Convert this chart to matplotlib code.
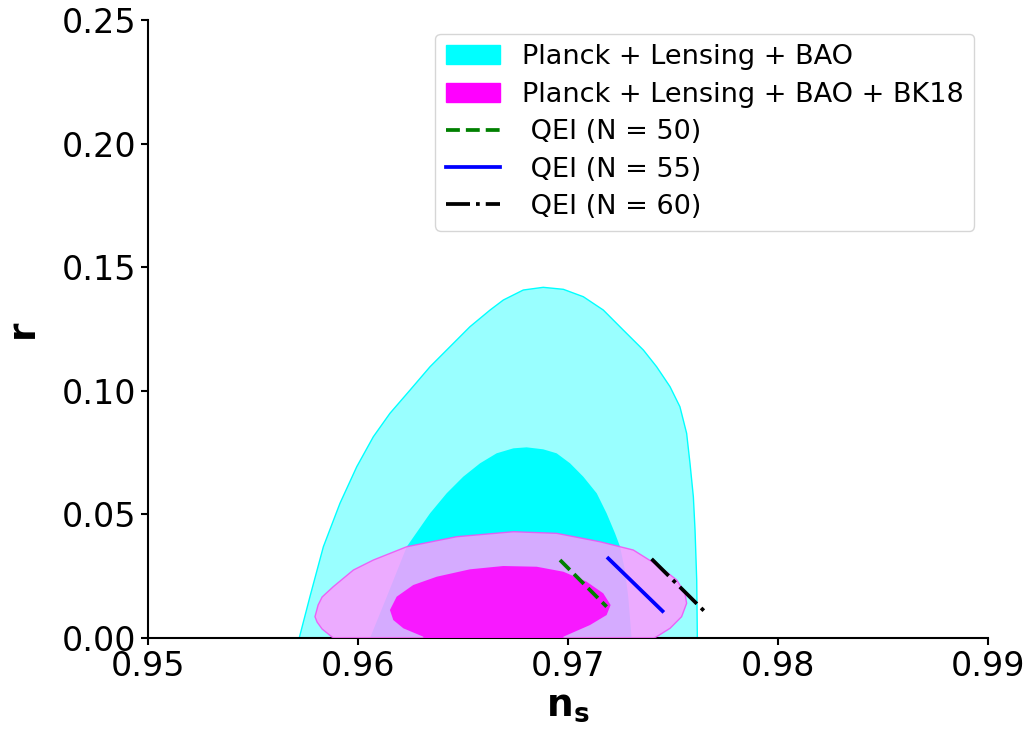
import numpy as np
import matplotlib
matplotlib.use("Agg")
import matplotlib.pyplot as plt
from matplotlib.patches import Patch
from matplotlib.ticker import FormatStrFormatter

# contour outlines (n_s, r)
cyan_outer_ns = [0.95720, 0.95771, 0.95835, 0.95914, 0.95994, 0.96073, 0.96152, 0.96248,
                 0.96343, 0.96438, 0.96533, 0.96629, 0.96692, 0.96787, 0.96882, 0.96978,
                 0.97073, 0.97168, 0.97263, 0.97359, 0.97422, 0.97486, 0.97533, 0.97565,
                 0.97581, 0.97597, 0.97605, 0.97613, 0.97616]
cyan_outer_r = [0.0, 0.01671, 0.03693, 0.05449, 0.06930, 0.08143, 0.09089, 0.10032,
                0.10975, 0.11784, 0.12593, 0.13269, 0.13673, 0.14078, 0.14187, 0.14106,
                0.13807, 0.13269, 0.12460, 0.11650, 0.10975, 0.10166, 0.09357, 0.08281,
                0.07067, 0.05716, 0.04369, 0.02346, 0.0]

cyan_inner_ns = [0.96057, 0.96137, 0.96232, 0.96343, 0.96422, 0.96501, 0.96581, 0.96660,
                 0.96740, 0.96803, 0.96882, 0.96946, 0.97010, 0.97073, 0.97137, 0.97184,
                 0.97224, 0.97248, 0.97271, 0.97287, 0.97303]
cyan_inner_r = [0.0, 0.01671, 0.03693, 0.05044, 0.05853, 0.06525, 0.07067, 0.07472,
                0.07674, 0.07714, 0.07634, 0.07472, 0.07067, 0.06525, 0.05853, 0.05044,
                0.04235, 0.03693, 0.02751, 0.01671, 0.0]

mag_outer_ns = [0.95795, 0.95810, 0.95829, 0.95882, 0.95978, 0.96073, 0.96232, 0.96470,
                0.96740, 0.96946, 0.97152, 0.97311, 0.97438, 0.97518, 0.97557, 0.97565,
                0.97541, 0.97486, 0.97422, 0.97410, 0.95882, 0.95829, 0.95805]
mag_outer_r = [0.00862, 0.01335, 0.01659, 0.02075, 0.02751, 0.03155, 0.03693, 0.04098,
               0.04300, 0.04235, 0.03895, 0.03560, 0.02884, 0.02346, 0.01808, 0.01404,
               0.00862, 0.00392, 0.00053, 0.0, 0.0, 0.00364, 0.00647]

mag_inner_ns = [0.96152, 0.96184, 0.96263, 0.96375, 0.96533, 0.96692, 0.96851, 0.96978,
                0.97089, 0.97168, 0.97203, 0.97184, 0.97105, 0.96978, 0.96978, 0.96311,
                0.96311, 0.96216, 0.96168]
mag_inner_r = [0.01133, 0.01671, 0.02144, 0.02480, 0.02779, 0.02913, 0.02884, 0.02682,
               0.02277, 0.01808, 0.01335, 0.00930, 0.00526, 0.00053, 0.0, 0.0,
               0.00053, 0.00392, 0.00728]

# model predictions
qei50_ns = [0.96962, 0.97184]
qei50_r = [0.03155, 0.01267]
qei55_ns = [0.97192, 0.97450]
qei55_r = [0.0322, 0.0109]
qei60_ns = [0.97398, 0.97657]
qei60_r = [0.0320, 0.0102]

fig = plt.figure(figsize=(10.33, 7.31), dpi=100)
ax = fig.add_axes([0.1433, 0.1272, 0.8131, 0.8454])

ax.fill(cyan_outer_ns, cyan_outer_r, facecolor='#99ffff', edgecolor='cyan', lw=1, zorder=1)
ax.fill(cyan_inner_ns, cyan_inner_r, facecolor='#00ffff', edgecolor='none', zorder=2)
ax.fill(mag_outer_ns, mag_outer_r, facecolor='#fc9cff', edgecolor='#f050f5', lw=1,
        alpha=0.85, zorder=3)
ax.fill(mag_inner_ns, mag_inner_r, facecolor='magenta', edgecolor='none', alpha=0.85, zorder=4)

l1, = ax.plot(qei50_ns, qei50_r, color='green', ls='--', lw=2.7, zorder=5)
l2, = ax.plot(qei55_ns, qei55_r, color='blue', ls='-', lw=2.7, zorder=5)
l3, = ax.plot(qei60_ns, qei60_r, color='black', ls='-.', lw=2.7, zorder=5)

handles = [Patch(color='cyan'), Patch(color='magenta'), l1, l2, l3]
labels = ['Planck + Lensing + BAO', 'Planck + Lensing + BAO + BK18',
          ' QEI (N = 50)', ' QEI (N = 55)', ' QEI (N = 60)']
ax.legend(handles, labels, loc='upper right', fontsize=19.5, labelspacing=0.42)

ax.set_xlim(0.95, 0.99)
ax.set_ylim(0, 0.25)
ax.set_xticks([0.95, 0.96, 0.97, 0.98, 0.99])
ax.set_yticks([0.0, 0.05, 0.10, 0.15, 0.20, 0.25])
ax.xaxis.set_major_formatter(FormatStrFormatter('%.2f'))
ax.yaxis.set_major_formatter(FormatStrFormatter('%.2f'))
ax.tick_params(labelsize=24, width=1.5, length=5)
for s in ['top', 'right']:
    ax.spines[s].set_visible(False)
for s in ['left', 'bottom']:
    ax.spines[s].set_linewidth(1.5)

ax.set_xlabel(r'$\mathbf{n_s}$', fontsize=27, fontweight='bold')
ax.set_ylabel('r', fontsize=27, fontweight='bold', labelpad=15)

fig.savefig('out.png', dpi=100)
